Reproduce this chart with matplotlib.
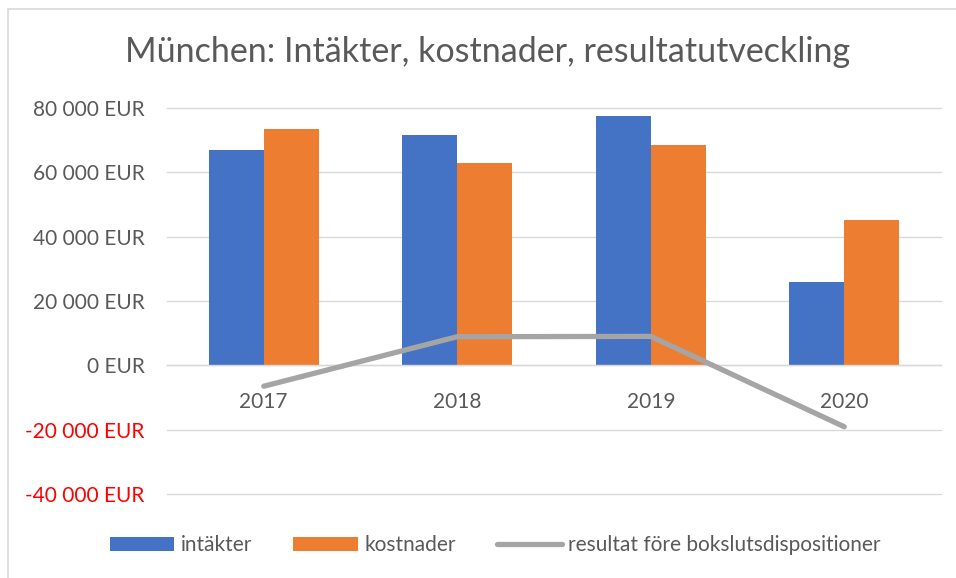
import matplotlib.pyplot as plt
from matplotlib.patches import Rectangle
from matplotlib.ticker import FuncFormatter
import numpy as np

plt.rcParams['font.family'] = ['Lato', 'DejaVu Sans']

years = ['2017', '2018', '2019', '2020']
intakter = [67000, 71600, 77500, 26000]
kostnader = [73500, 62900, 68500, 45300]
resultat = [-6500, 8900, 9000, -19100]

blue = '#4472C4'
orange = '#ED7D31'
grey = '#A5A5A5'
text_col = '#595959'

fig = plt.figure(figsize=(9.56, 5.78), dpi=100)
# chart border
fig.patches.append(Rectangle((8 / 956, -0.01), 1.0, (578 - 9) / 578 + 0.01,
                             transform=fig.transFigure, fill=False,
                             edgecolor='#d9d9d9', linewidth=1.2))

ax = fig.add_axes([167 / 956, 84 / 578, (941 - 167) / 956, (494 - 108) / 578])

x = np.arange(len(years))
w = 0.284
b1 = ax.bar(x - w / 2, intakter, w, color=blue, label='intäkter', zorder=2)
b2 = ax.bar(x + w / 2, kostnader, w, color=orange, label='kostnader', zorder=2)
l1, = ax.plot(x, resultat, color=grey, linewidth=3.8, solid_capstyle='round',
              label='resultat före bokslutsdispositioner', zorder=3)

ax.set_xlim(-0.5, len(years) - 0.5)
ax.set_ylim(-40000, 80000)
ax.set_yticks(np.arange(-40000, 80001, 20000))
ax.yaxis.set_major_formatter(FuncFormatter(lambda v, p: f'{int(v):,} EUR'.replace(',', ' ')))
ax.grid(axis='y', color='#d9d9d9', linewidth=1, zorder=0)
ax.set_axisbelow(True)
for gl in ax.get_ygridlines():
    gl.set_clip_on(False)

for s in ['top', 'right', 'left']:
    ax.spines[s].set_visible(False)
ax.spines['bottom'].set_position(('data', 0))
ax.spines['bottom'].set_color('#d9d9d9')
ax.spines['bottom'].set_linewidth(1)

ax.set_xticks(x)
ax.set_xticklabels(years)
ax.tick_params(axis='both', length=0, labelsize=15, labelcolor=text_col)
ax.tick_params(axis='y', pad=16)
ax.tick_params(axis='x', pad=19)
for lbl, v in zip(ax.get_yticklabels(), ax.get_yticks()):
    if v < 0:
        lbl.set_color('#FF0000')

fig.text(488 / 956, 1 - 52 / 578, 'München: Intäkter, kostnader, resultatutveckling',
         ha='center', va='center', fontsize=24.5, color=text_col)

leg = fig.legend(handles=[b1, b2, l1], loc='center', bbox_to_anchor=(0.518, 1 - 545 / 578), ncol=3,
                 frameon=False, fontsize=15, labelcolor=text_col,
                 handlelength=3.1, handleheight=0.65, handletextpad=0.3,
                 columnspacing=2.0)

plt.savefig('out.png', dpi=100)
